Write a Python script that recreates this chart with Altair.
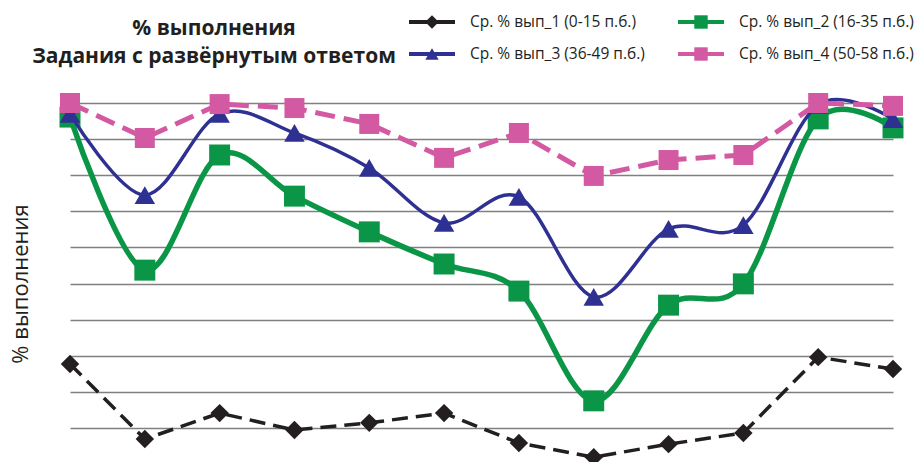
import altair as alt
import pandas as pd

tasks = ["1", "2", "3", "4", "5", "6", "7", "8", "9", "10", "11", "12"]
s1 = [27.7, 6.9, 14.1, 9.4, 11.4, 14.1, 5.8, 1.9, 5.5, 8.6, 29.6, 26.3]
s2 = [96.1, 53.7, 85.6, 74.2, 64.3, 55.4, 47.9, 17.5, 44.0, 49.9, 95.6, 93.1]
s3 = [97.0, 74.5, 97.0, 91.7, 82.0, 66.8, 74.0, 46.3, 65.1, 66.2, 99.5, 95.5]
s4 = [100.0, 90.3, 99.7, 98.6, 94.2, 84.8, 91.7, 79.8, 84.2, 85.6, 100.0, 99.2]
names = ["Ср. % вып_1 (0-15 п.б.)", "Ср. % вып_2 (16-35 п.б.)",
         "Ср. % вып_3 (36-49 п.б.)", "Ср. % вып_4 (50-58 п.б.)"]
title_lines = ["% выполнения", "Задания с развёрнутым ответом"]
y_title = "% выполнения"

FONT = "Open Sans"
colors = ["#231f20", "#0a9646", "#2e3192", "#d35aa2"]
shapes = ["diamond", "square", "triangle-up", "square"]
msizes = [340, 440, 420, 400]
lwidths = [3.5, 5.5, 3.5, 5]
dashes = [[16, 8], None, None, [20, 9]]
interp = ["linear", "cardinal", "cardinal", "linear"]
series = [s1, s2, s3, s4]

x_enc = alt.X("task:O", sort=tasks, scale=alt.Scale(type="point", padding=0), axis=None)
y_axis = alt.Axis(values=[10, 20, 30, 40, 50, 60, 70, 80, 90, 100], labels=False, ticks=False,
                  domain=False, grid=True, gridColor="#808080", gridWidth=1.7,
                  title=y_title, titleFont=FONT, titleFontSize=22, titleFontWeight="normal",
                  titleColor="#231f20", titlePadding=38)
y_enc = alt.Y("val:Q", scale=alt.Scale(domain=[0, 100], nice=False, zero=False), axis=y_axis)

layers = []
for i, vals in enumerate(series):
    df = pd.DataFrame({"task": tasks, "val": vals, "series": names[i]})
    base = alt.Chart(df).encode(x=x_enc, y=y_enc)
    lk = dict(color=colors[i], strokeWidth=lwidths[i], interpolate=interp[i], strokeCap="butt")
    if dashes[i]:
        lk["strokeDash"] = dashes[i]
    layers.append(base.mark_line(**lk))
    layers.append(base.mark_point(shape=shapes[i], size=msizes[i], filled=True,
                                  color=colors[i], opacity=1))

# title text
for j, line in enumerate(title_lines):
    tdf = pd.DataFrame({"t": [line]})
    layers.append(alt.Chart(tdf).mark_text(font=FONT, fontSize=21, fontWeight="bold",
                                           color="#231f20", align="center",
                                           baseline="alphabetic").encode(
        x=alt.value(144), y=alt.value(-68 + 28 * j), text="t:N"))

# legend
leg_x = [339, 608]
leg_y = [-81, -49]
for i, nm in enumerate(names):
    lx = leg_x[i % 2]
    ly = leg_y[i // 2]
    ldf = pd.DataFrame({"label": [nm]})
    lc = alt.Chart(ldf)
    layers.append(lc.mark_rule(color=colors[i], strokeWidth=4).encode(
        x=alt.value(lx), x2=alt.value(lx + 46), y=alt.value(ly)))
    layers.append(lc.mark_point(shape=shapes[i], size=180, filled=True, color=colors[i],
                                opacity=1).encode(x=alt.value(lx + 23), y=alt.value(ly)))
    layers.append(lc.mark_text(font=FONT, fontSize=15.5, color="#231f20", align="left",
                               baseline="middle").encode(
        x=alt.value(lx + 61), y=alt.value(ly), text="label:N"))

chart = alt.layer(*layers).properties(
    width=823, height=361,
    autosize=alt.AutoSizeParams(type="none"),
    padding={"left": 62, "top": 95, "right": 23, "bottom": 0},
).configure_view(stroke=None)

chart.save("out.html", embed_options={"renderer": "svg", "actions": False})
